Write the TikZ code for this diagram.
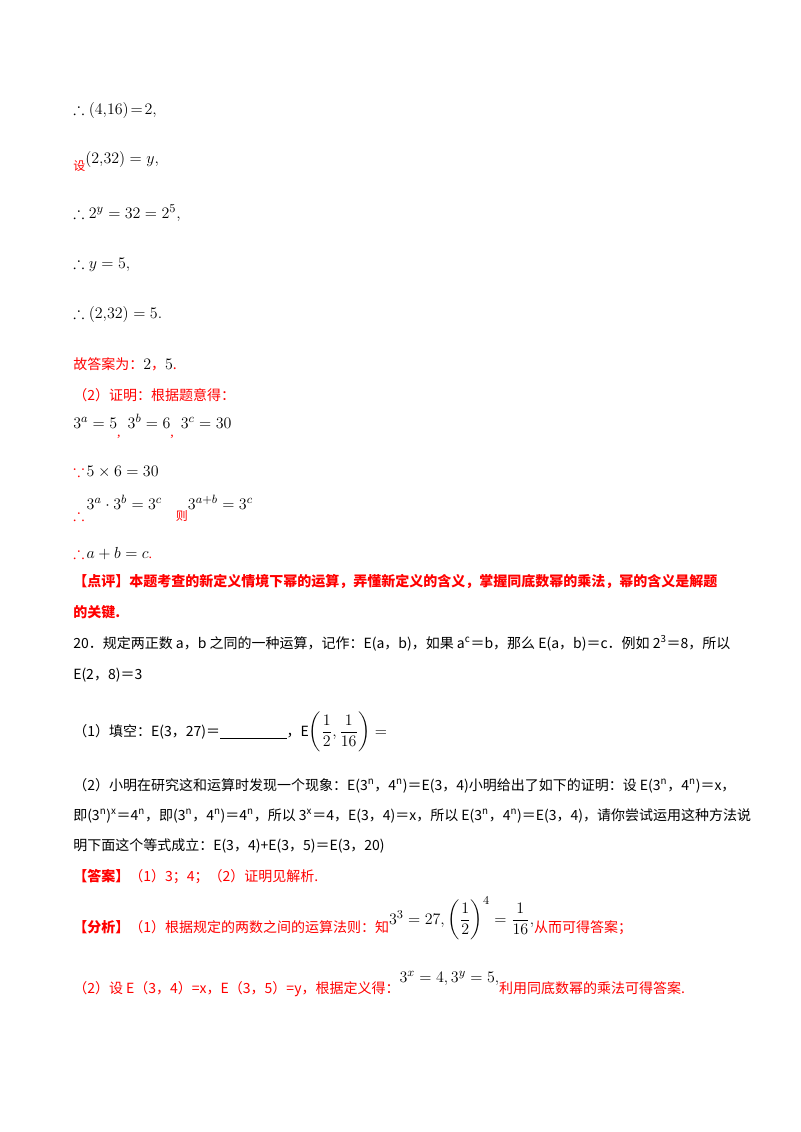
\documentclass[tikz,border=0pt]{standalone}
\usepackage{amsmath,amssymb}
\usepackage{fontspec}
\setmainfont{Liberation Serif}
\newfontfamily\cjk{Noto Sans CJK SC}
\definecolor{rd}{HTML}{FF0000}
\newcommand{\bm}[1]{{\fontsize{12.5}{14}\selectfont$#1$}}
\begin{document}
\begin{tikzpicture}[x=0.75pt,y=-0.75pt,
  t/.style={anchor=base west,inner sep=0,font=\fontsize{10.5}{12}\selectfont},
  r/.style={t,text=rd}]
\useasboundingbox (0,0) rectangle (800,1132);
\node[t] (l1) at (73,114) {\bm{\therefore\left(4{,}16\right)\!=\!2,}};
\node[t] (l2) at (73,170) {\textcolor{rd}{\cjk\small 设}\raisebox{5pt}{\bm{\left(2{,}32\right)=y,}}};
\node[t] (l3) at (73,218) {\bm{\therefore 2^{y}=32=2^{5},}};
\node[t] (l4) at (73,268) {\bm{\therefore y=5,}};
\node[t] (l5) at (73,318) {\bm{\therefore\left(2{,}32\right)=5.}};
\node[r] (l6) at (73,369) {\cjk 故答案为：\textcolor{black}{\bm{2}}，\textcolor{black}{\bm{5}}.};
\node[r] (l7) at (73,400) {\cjk （2）证明：根据题意得：};
\node[t] (l8) at (73,428) {\bm{3^{a}=5}\textcolor{rd}{\raisebox{-6pt}{,}}\enspace\bm{3^{b}=6}\textcolor{rd}{\raisebox{-6pt}{,}}\enspace\bm{3^{c}=30}};
\node[t] (l9) at (73,476) {\textcolor{rd}{\bm{\because}}\,\bm{5\times6=30}};
\node[t] (l10) at (73,520) {\textcolor{rd}{\bm{\therefore}}\raisebox{8pt}{\,\bm{3^{a}\cdot3^{b}=3^{c}}}\quad\textcolor{rd}{\cjk\small 则}\raisebox{8pt}{\bm{3^{a+b}=3^{c}}}};
\node[t] (l11) at (73,558) {\textcolor{rd}{\bm{\therefore}}\,\bm{a+b=c}\textcolor{rd}{.}};
\node[r] (l12) at (73,586) {\cjk\bfseries 【点评】本题考查的新定义情境下幂的运算，弄懂新定义的含义，掌握同底数幂的乘法，幂的含义是解题};
\node[r] (l13) at (73,617) {\cjk\bfseries 的关键.};
\node[t] (l14) at (73,648) {\cjk 20．规定两正数 a，b 之同的一种运算，记作：E(a，b)，如果 a\textsuperscript{c}＝b，那么 E(a，b)＝c．例如 2\textsuperscript{3}＝8，所以};
\node[t] (l15) at (73,679) {\cjk E(2，8)＝3};
\node[t] (l16) at (73,736) {\cjk （1）填空：E(3，27)＝\underline{\hspace{50pt}}，E\bm{\left(\dfrac{1}{2},\dfrac{1}{16}\right)=}};
\node[t] (l17) at (73,790) {\cjk （2）小明在研究这和运算时发现一个现象：E(3\textsuperscript{n}，4\textsuperscript{n})＝E(3，4)小明给出了如下的证明：设 E(3\textsuperscript{n}，4\textsuperscript{n})＝x，};
\node[t] (l18) at (73,820) {\cjk 即(3\textsuperscript{n})\textsuperscript{x}＝4\textsuperscript{n}，即(3\textsuperscript{n}，4\textsuperscript{n})＝4\textsuperscript{n}，所以 3\textsuperscript{x}＝4，E(3，4)＝x，所以 E(3\textsuperscript{n}，4\textsuperscript{n})＝E(3，4)，请你尝试运用这种方法说};
\node[t] (l19) at (73,850) {\cjk 明下面这个等式成立：E(3，4)+E(3，5)＝E(3，20)};
\node[r] (l20) at (73,881) {\cjk\bfseries 【答案】\mdseries （1）3；4；（2）证明见解析.};
\node[r] (l21) at (73,932) {\cjk\bfseries 【分析】\mdseries （1）根据规定的两数之间的运算法则：知\textcolor{black}{\raisebox{6pt}{\bm{3^{3}=27,\left(\dfrac{1}{2}\right)^{4}=\dfrac{1}{16},}}}从而可得答案；};
\node[r] (l22) at (73,993) {\cjk （2）设 E（3，4）=x，E（3，5）=y，根据定义得：\textcolor{black}{\raisebox{8pt}{\bm{3^{x}=4,3^{y}=5,}}}利用同底数幂的乘法可得答案.};
\end{tikzpicture}
\end{document}
